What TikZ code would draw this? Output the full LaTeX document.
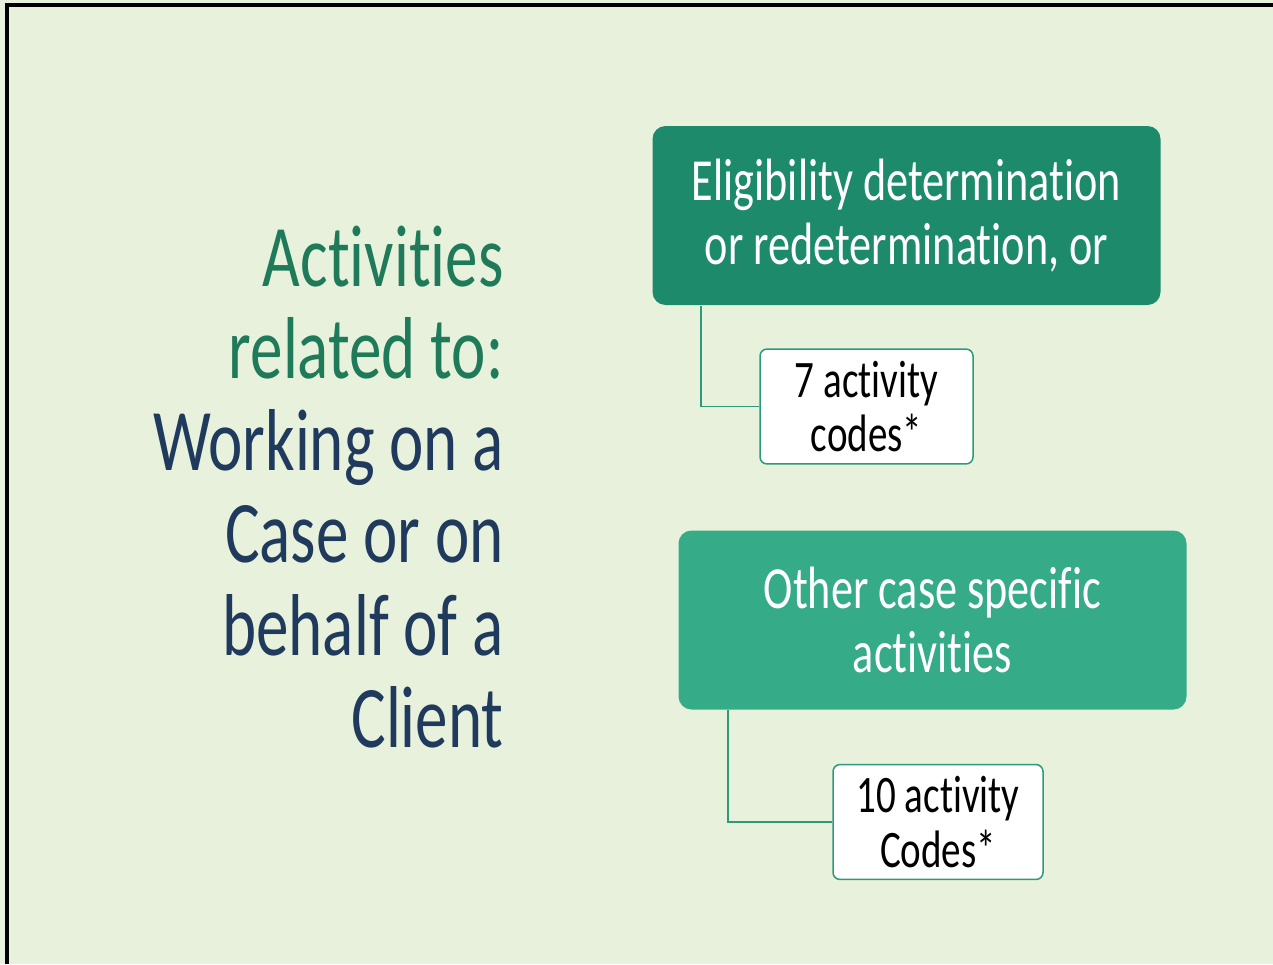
\documentclass[tikz,border=0pt]{standalone}
\usepackage{fontspec}
\setmainfont{Carlito}[FakeStretch=0.74, Ligatures=NoCommon]
\definecolor{bgpale}{HTML}{E8F1DB}
\definecolor{tealdark}{HTML}{1D8A6C}
\definecolor{teallight}{HTML}{35AB87}
\definecolor{tealline}{HTML}{2E9A79}
\definecolor{headgreen}{HTML}{1E7A58}
\definecolor{headnavy}{HTML}{1F3A5C}

\begin{document}
\begin{tikzpicture}[
		mainbox/.style={rounded corners=0.13cm, minimum width=5.08cm, minimum height=1.79cm, align=center, text=white, font=\fontsize{17}{18}\selectfont},
		codebox/.style={draw=tealline, line width=0.015cm, fill=white, rounded corners=0.07cm, align=center, font=\fontsize{15}{15.6}\selectfont},
		link/.style={draw=tealline, line width=0.015cm}
	]
		\fill[bgpale] (0, 0) rectangle (12.73, -9.64);
		\useasboundingbox (0, 0) rectangle (12.73, -9.64);
		\draw[line width=0.035cm] (0.07, -9.64) -- (0.07, -0.05) -- (12.73, -0.05);
		
		\node[anchor=east, align=right, font=\fontsize{25}{26.2}\selectfont, text=headnavy] (title) at (5.16, -4.87)
			{\textcolor{headgreen}{Activities}\\\textcolor{headgreen}{related to:}\\Working on a\\Case or on\\behalf of a\\Client};
		
		\node[mainbox, fill=tealdark] (elig) at (9.065, -2.155) {Eligibility determination\\or redetermination, or};
		\node[codebox, minimum width=2.13cm, minimum height=1.13cm] (codes7) at (8.665, -4.065) {7 activity\\codes*};
		
		\node[mainbox, fill=teallight] (other) at (9.325, -6.20) {Other case specific\\activities};
		\node[codebox, minimum width=2.10cm, minimum height=1.06cm] (codes10) at (9.38, -8.22) {10 activity\\Codes*};
		
		\draw[link] (elig.south west) ++(0.49, 0) |- (codes7.west);
		\draw[link] (other.south west) ++(0.50, 0) |- (codes10.west);
	\end{tikzpicture}
\end{document}
